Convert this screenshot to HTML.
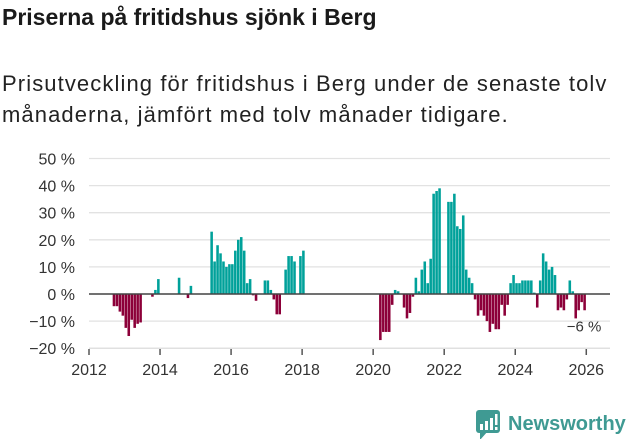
<!DOCTYPE html>
<html><head><meta charset="utf-8"><style>
body{margin:0;background:#fff;width:631px;height:439px;overflow:hidden;font-family:"Liberation Sans","DejaVu Sans",sans-serif;}
h1{position:absolute;left:2px;top:4px;margin:0;font-size:23px;font-weight:bold;color:#1a1a1a;}
p{position:absolute;left:2px;top:68px;margin:0;font-size:22px;line-height:31px;color:#222;width:631px;white-space:nowrap;letter-spacing:1.1px;}
svg{position:absolute;left:0;top:0;}
</style></head><body>
<h1>Priserna på fritidshus sjönk i Berg</h1>
<p>Prisutveckling för fritidshus i Berg under de senaste tolv<br>månaderna, jämfört med tolv månader tidigare.</p>
<svg id="chart" width="631" height="439"></svg>
<script>
const monthIndex=[8,9,10,11,12,13,14,15,16,17,21,22,23,30,33,34,41,42,43,44,45,46,47,48,49,50,51,52,53,54,55,56,59,60,61,62,63,64,66,67,68,69,71,72,
98,99,100,101,102,103,104,106,107,108,109,110,111,112,113,114,115,116,117,118,121,122,123,124,125,126,127,128,129,
130,131,132,133,134,135,136,137,138,139,140,141,142,143,144,145,146,147,148,149,150,151,152,153,154,155,156,157,158,159,160,161,162,163,164,165,166,167];
const values=[-4.5,-4.5,-6.5,-8,-12.5,-15.5,-9.5,-12.5,-11,-10.5,-1,1.5,5.5,6,-1.5,3,23,12,18,15,12,10,11,11,16,20,21,16,4,5.5,-0.5,-2.5,5,5,1.5,-2,-7.5,-7.5,9,14,14,12,14,16,
-17,-14,-14,-14,-4,1.5,1,-5,-9,-7,-1,6,1,9,12,4,13,37,38,39,34,34,37,25,24,29,9,6,4,
-2,-8,-6,-8,-10,-14,-11,-13,-13,-4,-8,-4,4,7,4,4,5,5,5,5,0.5,-5,5,15,12,9,10,7,-6,-5,-6,-2,5,1,-9,-6,-3,-6];
const yTicks=[50,40,30,20,10,0,-10,-20];
const xTicks=[2012,2014,2016,2018,2020,2022,2024,2026];
const lastLabel="−6 %";
const NS="http://www.w3.org/2000/svg";
const svg=document.getElementById('chart');
const x0=89,mw=2.96,y0=294,yk=2.71;
const X=i=>x0+i*mw, Y=v=>y0-v*yk;
function mk(t,a){const e=document.createElementNS(NS,t);for(const k in a)e.setAttribute(k,a[k]);svg.appendChild(e);return e;}
yTicks.forEach(v=>{
  const g=mk('line',{x1:89,x2:610,y1:Y(v),y2:Y(v),stroke:'#e2e2e2','stroke-width':1.3});
  
  
  const t=mk('text',{x:75,y:Y(v)+6,'text-anchor':'end','font-size':16,fill:'#333'});
  t.textContent=(v<0?'−'+(-v):v)+' %';
  
  
});
const base=mk('line',{x1:89,x2:610,y1:Y(-20),y2:Y(-20),stroke:'#ddd','stroke-width':1});


xTicks.forEach(yr=>{
  const xx=X((yr-2012)*12);
  const l=mk('line',{x1:xx,x2:xx,y1:349,y2:355,stroke:'#555','stroke-width':1.5});
  
  
  const t=mk('text',{x:xx,y:375,'text-anchor':'middle','font-size':16,fill:'#333'});
  t.textContent=yr;
  
  
});
values.forEach((v,k)=>{
  const i=monthIndex[k];
  const r=mk('rect',{x:X(i),width:mw-0.4,y:Math.min(Y(v),y0),height:Math.abs(v*yk),fill:v>=0?'#00a19a':'#8c0039'});
  
  
});
const z=mk('line',{x1:89,x2:610,y1:y0,y2:y0,stroke:'#444','stroke-width':1.5});


const last=values[values.length-1];
const lt=mk('text',{x:X(monthIndex[monthIndex.length-1])+18,y:Y(last)+21,'text-anchor':'end','font-size':15,fill:'#333'});
lt.textContent=lastLabel;


</script>
<svg width="631" height="439">
<rect x="476" y="410" width="24" height="23" rx="3" fill="#3f9a93"/>
<path d="M480 431 L480 440 L488 431 Z" fill="#3f9a93"/>
<rect x="480" y="424" width="3" height="6" fill="#fff"/><rect x="485" y="421" width="3" height="9" fill="#fff"/><rect x="490" y="418" width="3" height="12" fill="#fff"/><rect x="495" y="414" width="2.5" height="11" fill="#fff"/><rect x="495" y="427" width="2.5" height="3" fill="#fff"/>
<text x="508" y="430" font-size="20" font-weight="bold" fill="#3f9a93" font-family="Liberation Sans, sans-serif">Newsworthy</text>
</svg>
</body></html>
